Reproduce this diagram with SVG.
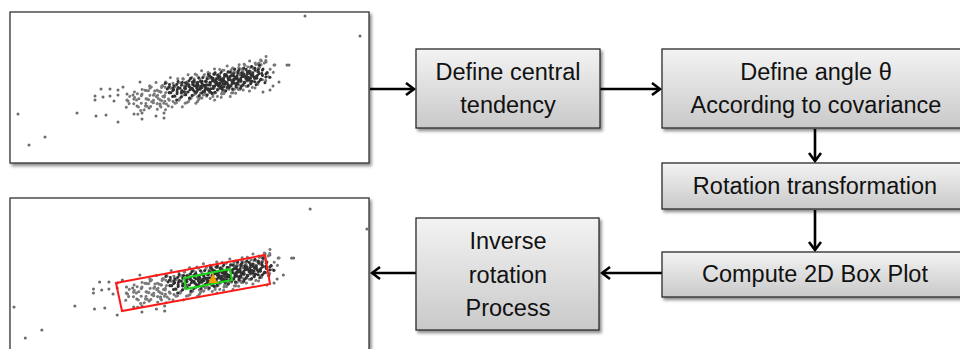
<svg xmlns="http://www.w3.org/2000/svg" xmlns:xlink="http://www.w3.org/1999/xlink" width="960" height="349" viewBox="0 0 960 349">
<defs>
<linearGradient id="gb" x1="0" y1="0" x2="0" y2="1">
<stop offset="0" stop-color="#f3f3f3"/>
<stop offset="1" stop-color="#c9c9c9"/>
</linearGradient>
<filter id="sh" x="-10%" y="-10%" width="125%" height="130%">
<feDropShadow dx="2" dy="2.5" stdDeviation="1.5" flood-color="#000" flood-opacity="0.45"/>
</filter>
<marker id="ah" viewBox="-11 -8 13 16" refX="0" refY="0" markerWidth="13" markerHeight="16" markerUnits="userSpaceOnUse" orient="auto">
<path d="M-8,-6 L0,0 L-8,6" fill="none" stroke="#000" stroke-width="2.6"/>
</marker>
<path id="outer" stroke="#7a7a7a" stroke-width="3" d="M-40,-11h.01M-22,-10.4h.01M-8,-11.6h.01M5,-10.8h.01M18,-11.3h.01M30,-10.2h.01M41,-11.8h.01M52,-10.6h.01M-55,-9h.01M-33,-8.4h.01M-15,-9.6h.01M-2,-8.8h.01M10,-9.3h.01M23,-8.2h.01M35,-9.7h.01M46,-8.6h.01M57,-9.2h.01M-62,-7h.01M-45,-6.5h.01M-28,-7.6h.01M-19,-6.8h.01M-6,-7.3h.01M3,-6.2h.01M14,-7.8h.01M21,-6.6h.01M29,-7.2h.01M38,-6.4h.01M49,-7.5h.01M55,-6.9h.01M-56,7h.01M-40,7.6h.01M-27,6.4h.01M-16,7.3h.01M-8,6.7h.01M1,7.8h.01M10,6.2h.01M19,7.4h.01M28,6.8h.01M35,7.5h.01M43,6.3h.01M-63,9h.01M-46,9.5h.01M-30,8.4h.01M-18,9.7h.01M-4,8.8h.01M7,9.3h.01M16,8.6h.01M26,9.6h.01M38,8.9h.01M50,9.2h.01M-50,11h.01M-35,11.6h.01M-20,10.4h.01M-9,11.3h.01M4,10.7h.01M15,11.8h.01M30,10.6h.01M44,11.2h.01M-42,13h.01M-25,13.5h.01M-11,12.6h.01M8,13.2h.01M24,12.8h.01M-80,3h.01M-78,-4h.01M65,-3h.01M62,4h.01M-70,12h.01M58,-13h.01M-70,-5h.01M-50,-4.6h.01M-66,-3h.01M-47,-2.6h.01M-58,-1h.01M-72,1h.01M-52,1.4h.01M-60,3h.01M-44,3.4h.01M-68,5h.01M-49,5.4h.01M-42,-0.6h.01"/>
<path id="core" stroke="#303030" stroke-width="3" d="M-38,-5.4h.01M-25,-4.8h.01M-12,-5.3h.01M-4,-4.4h.01M6,-5.6h.01M12,-4.7h.01M19,-5.2h.01M26,-4.5h.01M33,-5.5h.01M42,-4.9h.01M50,-5.1h.01M58,-4.6h.01M-34,-3.4h.01M-21,-2.8h.01M-14,-3.3h.01M-9,-2.4h.01M0,-3.6h.01M8,-2.7h.01M15,-3.2h.01M22,-2.5h.01M28,-3.5h.01M36,-2.9h.01M44,-3.1h.01M53,-2.6h.01M-30,-1.4h.01M-17,-0.8h.01M-11,-1.3h.01M-3,-0.4h.01M4,-1.6h.01M10,-0.7h.01M17,-1.2h.01M24,-0.5h.01M31,-1.5h.01M39,-0.9h.01M47,-1.1h.01M56,-0.6h.01M-37,0.6h.01M-26,1.2h.01M-15,0.7h.01M-7,1.6h.01M2,0.4h.01M9,1.3h.01M13,0.8h.01M20,1.5h.01M27,0.5h.01M34,1.1h.01M41,0.9h.01M50,1.4h.01M60,0.7h.01M-31,2.6h.01M-20,3.2h.01M-10,2.7h.01M-1,3.6h.01M6,2.4h.01M11,3.3h.01M18,2.8h.01M25,3.5h.01M32,2.5h.01M40,3.1h.01M48,2.9h.01M-36,4.6h.01M-23,5.2h.01M-13,4.7h.01M-5,5.6h.01M3,4.4h.01M14,5.3h.01M21,4.8h.01M29,5.5h.01M37,4.5h.01M45,5.1h.01M54,4.9h.01M-18,-2h.01M-6,0h.01M7,-4h.01M16,2h.01M23,-2h.01M30,4h.01M37,-4h.01M44,2h.01M-27,-2h.01M0,5h.01M13,-6h.01M-2,2h.01"/>
<g id="pts" fill="none" stroke-linecap="round">
<path stroke="#6d6d6d" stroke-width="3" d="M305,16h.01M360,36h.01M18,114h.01M29,145h.01M45,137h.01M77,113h.01M96,116h.01M106,115h.01M118,122h.01M134,114h.01M142,113h.01M142,119h.01M156,116h.01M164,113h.01M164,118h.01M95,100h.01M95,96h.01M103,97h.01M110,96h.01M110,89h.01M118,95h.01M118,90h.01M123,87h.01M127,94h.01M133,95h.01M140,82h.01M150,88h.01M263,92h.01M270,90h.01M273,86h.01M279,82h.01M287,65h.01M274,65h.01M266,62h.01M289,65h.01M259,63h.01M101,89h.01M114,101h.01M128,101h.01M137,106h.01M149,108h.01M160,104h.01"/>
<g transform="translate(207,85) rotate(-11.3)">
<use href="#outer" xlink:href="#outer"/>
<use href="#outer" xlink:href="#outer" transform="translate(5.5,-3.4)"/>
<use href="#outer" xlink:href="#outer" transform="translate(-3.5,3.1)"/>
<use href="#core" xlink:href="#core"/>
<use href="#core" xlink:href="#core" transform="translate(3.3,4.2)"/>
<use href="#core" xlink:href="#core" transform="translate(-2.7,-4.4)"/>
</g>
</g>
</defs>
<style>
.frame{fill:#fff;stroke:#333;stroke-width:1.3;filter:url(#sh)}
.box{fill:url(#gb);stroke:#2b2b2b;stroke-width:1.3;filter:url(#sh)}
.t{font-family:"Liberation Sans",Arial,sans-serif;font-size:23.5px;fill:#111;text-anchor:middle}
.conn{stroke:#000;stroke-width:2.6;fill:none;marker-end:url(#ah)}
</style>
<g id="plot-top">
<rect class="frame" x="10" y="12" width="359" height="151"/>
<use xlink:href="#pts" href="#pts"/>
</g>
<g id="plot-bottom">
<rect class="frame" x="10" y="198" width="359" height="175"/>
<use xlink:href="#pts" href="#pts" transform="matrix(1.032 0 0 1 -4.6 193)"/>
<polygon points="116,283 265,255 270,284 122,311" fill="none" stroke="#ff1a1a" stroke-width="2"/>
<polygon points="184,278 230,269 232,280 186,289" fill="none" stroke="#18d818" stroke-width="2"/>
<polygon points="213,273 208.5,283 217.5,283" fill="#f0a000"/>
</g>
<g id="connectors">
<line class="conn" x1="370" y1="89" x2="414" y2="89"/>
<line class="conn" x1="600" y1="89" x2="660" y2="89"/>
<line class="conn" x1="815" y1="129" x2="815" y2="161"/>
<line class="conn" x1="815" y1="210" x2="815" y2="250"/>
<line class="conn" x1="662" y1="273" x2="602" y2="273"/>
<line class="conn" x1="416" y1="273" x2="372" y2="273"/>
</g>
<g id="n-central">
<rect class="box" x="416" y="49" width="184" height="79"/>
<text class="t" x="508" y="80">Define central</text>
<text class="t" x="508" y="113">tendency</text>
</g>
<g id="n-angle">
<rect class="box" x="662" y="49" width="310" height="79"/>
<text class="t" x="816" y="80">Define angle θ</text>
<text class="t" x="816" y="113">According to covariance</text>
</g>
<g id="n-rotation">
<rect class="box" x="662" y="163" width="310" height="46"/>
<text class="t" x="815" y="194">Rotation transformation</text>
</g>
<g id="n-boxplot">
<rect class="box" x="662" y="252" width="310" height="45"/>
<text class="t" x="815" y="282">Compute 2D Box Plot</text>
</g>
<g id="n-inverse">
<rect class="box" x="416" y="218" width="183" height="112"/>
<text class="t" x="508" y="249">Inverse</text>
<text class="t" x="508" y="283">rotation</text>
<text class="t" x="508" y="316">Process</text>
</g>
</svg>
